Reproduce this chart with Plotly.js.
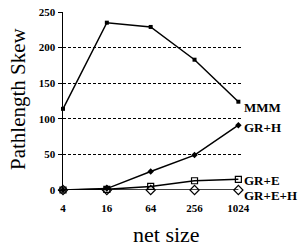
<!DOCTYPE html>
<html><head><meta charset="utf-8">
<script src="https://cdn.plot.ly/plotly-3.0.1.min.js"></script>
<style>html,body{margin:0;padding:0;background:#fff}#c{width:298px;height:246px}</style>
</head><body><div id="c"></div>
<script>
const netSizes = ['4','16','64','256','1024'];
const mmm = [114, 235, 229, 183, 124];
const grH = [0, 2, 26, 49, 91];
const grE = [0, 1, 5, 13, 15];
const grEH = [0, 0, 0, 0, 0];
const seriesNames = ['MMM','GR+H','GR+E','GR+E+H'];
const labelOffsets = [-6, -2, -1, -5];

const font = "Liberation Serif";
const allSeries = [mmm, grH, grE, grEH];
const markers = [
  {symbol:'square', size:4, color:'#000'},
  {symbol:'diamond', size:5, color:'#000'},
  {symbol:'square-open', size:6, color:'#000', line:{width:1.2,color:'#000'}},
  {symbol:'diamond-open', size:7, color:'#000', line:{width:1.2,color:'#000'}}
];
const traces = allSeries.map((s,i)=>({
  x: netSizes, y: s, type:'scatter', mode:'lines+markers', name: seriesNames[i],
  line:{color:'#000', width:1.5}, marker: markers[i], cliponaxis:false
}));
const annotations = allSeries.map((s,i)=>({
  x: netSizes.length-1, y: s[s.length-1], xref:'x', yref:'y', text: seriesNames[i],
  showarrow:false, xanchor:'left', xshift:4, yshift:labelOffsets[i],
  font:{family:font, size:13, color:'#000', weight:'bold'}
}));
annotations.push({xref:'paper', yref:'paper', x:0.5, xshift:14, y:0, yshift:-44, yanchor:'middle', xanchor:'center',
  text:'net size', showarrow:false, font:{family:font, size:22, color:'#000'}});
annotations.push({xref:'paper', yref:'paper', x:0, xshift:-45, y:0.5, yshift:2, textangle:-90, xanchor:'center', yanchor:'middle',
  text:'Pathlength Skew', showarrow:false, font:{family:font, size:21, color:'#000'}});
Plotly.newPlot('c', traces, {
  width:298, height:246,
  font:{family:font, color:'#000'},
  margin:{l:63, r:57, t:12, b:56},
  showlegend:false,
  paper_bgcolor:'#fff', plot_bgcolor:'#fff',
  xaxis:{type:'category', range:[0,4.06], showgrid:false, zeroline:false, showline:false,
    ticks:'', ticklabelstandoff:10, tickfont:{family:font, size:11, color:'#000', weight:'bold'}},
  yaxis:{range:[0,250], tickvals:[0,50,100,150,200,250], showgrid:true, gridcolor:'#000',
    griddash:'3px,2px', gridwidth:1, zeroline:false, showline:true, linecolor:'#000', linewidth:1.5,
    ticks:'outside', ticklen:4, tickcolor:'#000',
    tickfont:{family:font, size:11, color:'#000', weight:'bold'}},
  annotations: annotations
}, {displayModeBar:false, staticPlot:true});
</script></body></html>
